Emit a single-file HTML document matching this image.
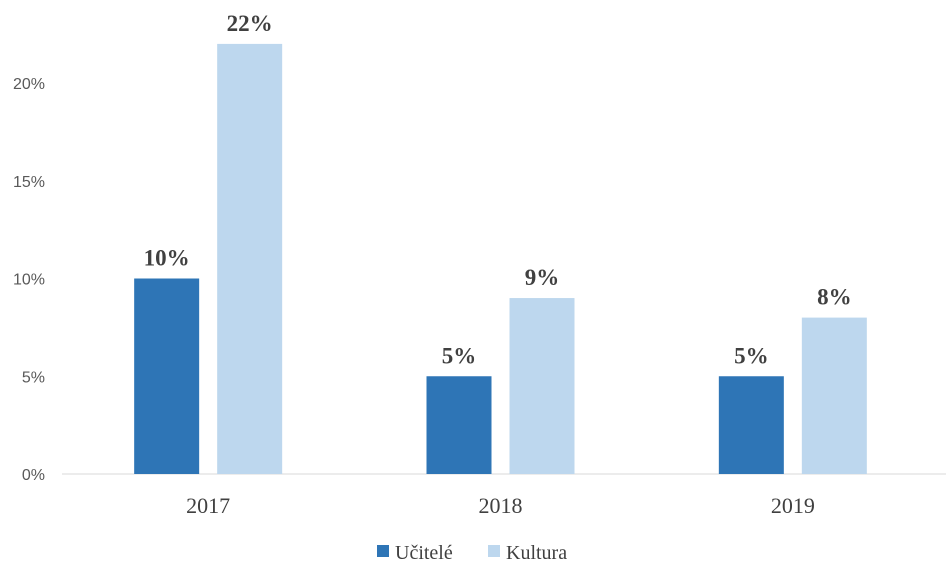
<!DOCTYPE html>
<html><head><meta charset="utf-8"><style>
html,body{margin:0;padding:0;background:#fff;}
svg{display:block;}
</style></head><body>
<svg id="chart" width="952" height="577" xmlns="http://www.w3.org/2000/svg">
<g id="grid"></g><g id="bars"></g><g id="labels"></g>
<g>
  <rect x="377" y="545" width="12" height="12" fill="#2E75B6"/>
  <text x="395" y="559" font-family="Liberation Serif, serif" font-size="20" fill="#404040">Učitelé</text>
  <rect x="488" y="545" width="12" height="12" fill="#BDD7EE"/>
  <text x="506" y="559" font-family="Liberation Serif, serif" font-size="20" fill="#404040">Kultura</text>
</g>
</svg>
<script>
const categories = ["2017","2018","2019"];
const ucitele = [10,5,5];
const kultura = [22,9,8];
const yTicks = [0,5,10,15,20];
const NS="http://www.w3.org/2000/svg";
const plotL=62, plotR=939, y0=474, pxPer=19.55;
const y=v=>y0-v*pxPer;
const bw=(plotR-plotL)/categories.length;
const cx=i=>plotL+bw*(i+0.5);
const barW=65, gap=18;
function mk(tag,attrs,parent){const e=document.createElementNS(NS,tag);for(const k in attrs)e.setAttribute(k,attrs[k]);document.getElementById(parent).appendChild(e);return e;}
yTicks.forEach(t=>{
  const tx=mk('text',{x:45,y:y(t)+6,'text-anchor':'end','font-family':'Liberation Sans, sans-serif','font-size':16,fill:'#595959'},'grid');
  
  
  tx.textContent=t+'%';
});
const ax=mk('line',{x1:plotL,x2:plotR+7,y1:y0,y2:y0,stroke:'#D9D9D9','stroke-width':1},'grid');


const series=[[ucitele,'#2E75B6','ucitele',-1],[kultura,'#BDD7EE','kultura',1]];
categories.forEach((c,i)=>{
  series.forEach(([vals,col,nm,side])=>{
    const x= side<0 ? cx(i)-gap/2-barW : cx(i)+gap/2;
    const r=mk('rect',{x:x,y:y(vals[i]),width:barW,height:y0-y(vals[i]),fill:col},'bars');
    
    
    const t=mk('text',{x:x+barW/2,y:y(vals[i])-13,'text-anchor':'middle','font-family':'Liberation Serif, serif','font-size':23,'font-weight':'bold',fill:'#404040'},'labels');
    
    
    t.textContent=vals[i]+'%';
  });
  const cl=mk('text',{x:cx(i),y:513,'text-anchor':'middle','font-family':'Liberation Serif, serif','font-size':22,fill:'#404040'},'labels');
  
  
  cl.textContent=c;
});
</script>
</body></html>
